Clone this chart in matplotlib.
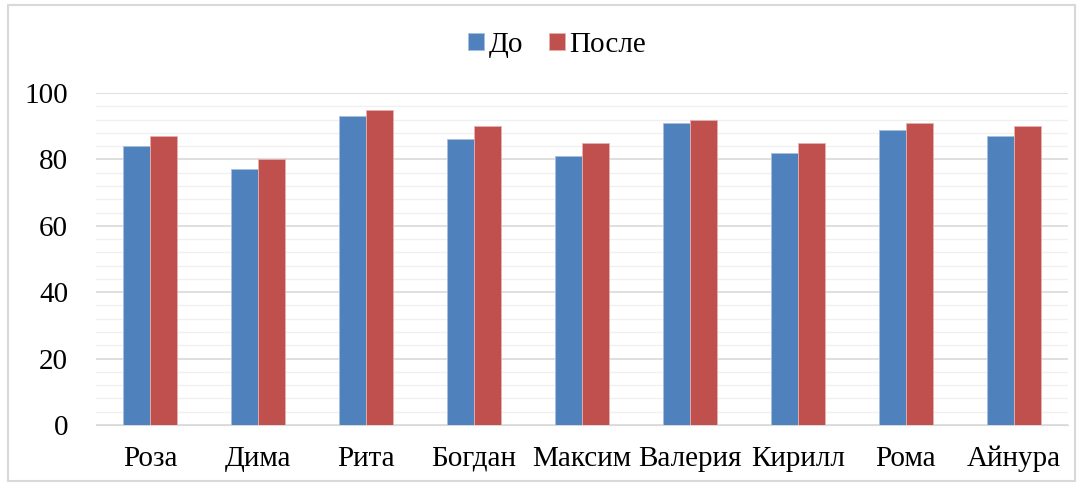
import numpy as np
import matplotlib.pyplot as plt
from matplotlib.patches import Rectangle
from matplotlib.ticker import MultipleLocator

plt.rcParams['font.family'] = ['Liberation Serif', 'DejaVu Serif']

# Data
names = ['Роза', 'Дима', 'Рита', 'Богдан', 'Максим', 'Валерия', 'Кирилл', 'Рома', 'Айнура']
before = [84, 77, 93, 86, 81, 91, 82, 89, 87]
after = [87, 80, 95, 90, 85, 92, 85, 91, 90]

fig = plt.figure(figsize=(10.83, 4.83), dpi=100)
ax = fig.add_axes([96 / 1083, 1 - 425 / 483, (1068 - 96) / 1083, (425 - 93) / 483])

x = np.arange(len(names))
w = 0.25
ax.bar(x - w / 2, before, w, color='#4F81BD', edgecolor='#A7C0DE', linewidth=0.6, label='До', zorder=3)
ax.bar(x + w / 2, after, w, color='#C0504D', edgecolor='#E6B0AE', linewidth=0.6, label='После', zorder=3)

ax.set_xlim(-0.5, len(names) - 0.5)
ax.set_ylim(0, 100)
ax.yaxis.set_major_locator(MultipleLocator(20))
ax.yaxis.set_minor_locator(MultipleLocator(4))
ax.grid(which='major', axis='y', color='#D9D9D9', linewidth=1.2, zorder=0)
ax.grid(which='minor', axis='y', color='#F0F0F0', linewidth=1.0, zorder=0)

ax.set_xticks(x)
ax.set_xticklabels(names, fontsize=21)
ax.tick_params(axis='y', which='both', length=0, labelsize=21, pad=20)
ax.tick_params(axis='x', length=0, pad=15)
for s in ['top', 'right', 'left']:
    ax.spines[s].set_visible(False)
ax.spines['bottom'].set_color('#D9D9D9')

fig.legend(loc='center', bbox_to_anchor=(557 / 1083, 1 - 45 / 483), ncol=2, frameon=False,
           fontsize=21, handlelength=0.55, handleheight=0.55, handletextpad=0.15, columnspacing=0.9)

# light border around the chart area
fig.patches.append(Rectangle((8 / 1083, 2 / 483), 1067 / 1083, 476 / 483, transform=fig.transFigure,
                             fill=False, edgecolor='#D9D9D9', linewidth=1.5))

fig.savefig('out.png', dpi=100)
